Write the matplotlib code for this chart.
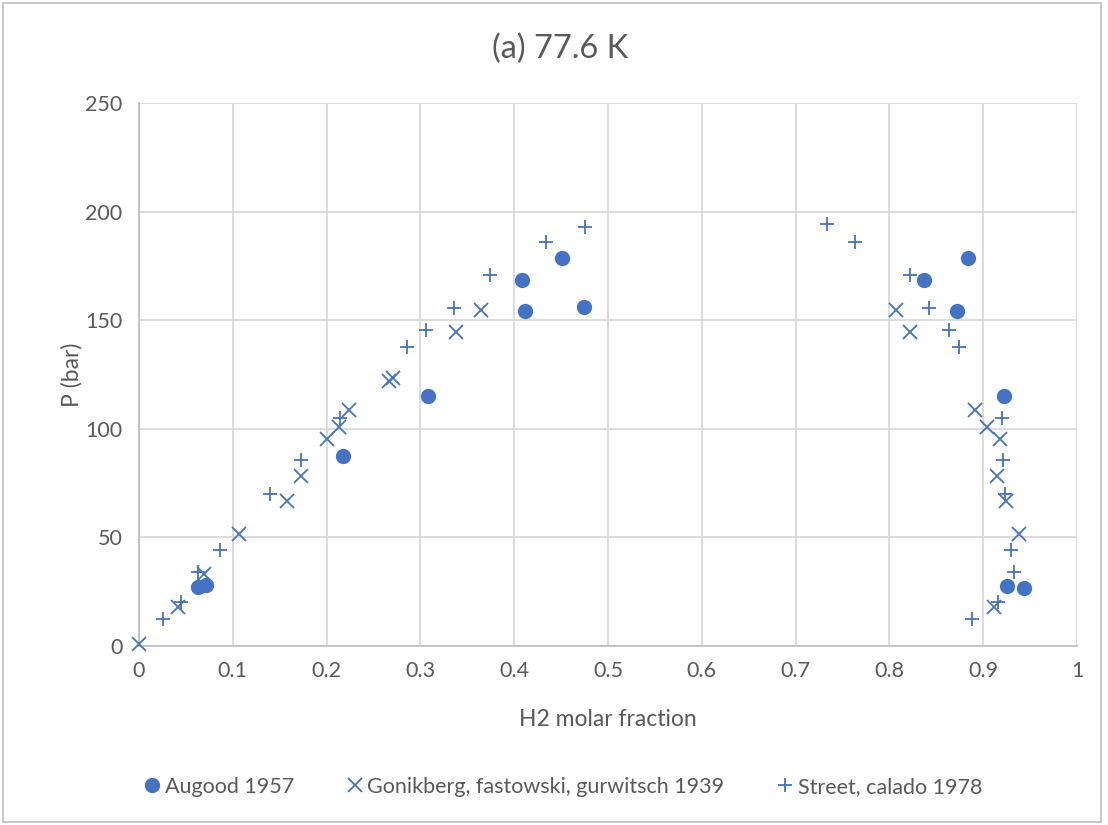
import matplotlib
matplotlib.use("Agg")
import matplotlib.pyplot as plt
from matplotlib.patches import Rectangle

plt.rcParams['font.family'] = ['Lato', 'DejaVu Sans']

title = "(a) 77.6 K"
x_label = "H2 molar fraction"
y_label = "P (bar)"

augood_label = "Augood 1957"
augood_x = [0.063, 0.071, 0.217, 0.308, 0.408, 0.412, 0.451, 0.474,
            0.837, 0.872, 0.884, 0.922, 0.925, 0.944]
augood_p = [27.0, 28.1, 87.5, 115.2, 168.4, 154.2, 178.6, 156.1,
            168.4, 154.2, 178.6, 115.1, 27.8, 26.8]

gonik_label = "Gonikberg, fastowski, gurwitsch 1939"
gonik_x = [0.0, 0.042, 0.069, 0.107, 0.158, 0.173, 0.200, 0.213, 0.224,
           0.266, 0.271, 0.338, 0.365,
           0.807, 0.822, 0.891, 0.904, 0.918, 0.915, 0.924, 0.938, 0.912]
gonik_p = [1.0, 18.1, 33.1, 51.6, 66.6, 78.4, 95.5, 100.6, 108.6,
           121.8, 123.4, 144.6, 154.8,
           154.8, 144.6, 108.6, 100.6, 95.5, 78.4, 66.6, 51.6, 18.1]

street_label = "Street, calado 1978"
street_x = [0.026, 0.045, 0.063, 0.086, 0.140, 0.173, 0.214, 0.286,
            0.306, 0.336, 0.374, 0.434, 0.475,
            0.733, 0.763, 0.822, 0.842, 0.864, 0.874, 0.920, 0.921,
            0.923, 0.930, 0.933, 0.916, 0.888]
street_p = [12.4, 20.4, 34.0, 44.3, 70.0, 85.8, 104.8, 137.8,
            145.3, 155.6, 170.8, 186.1, 193.1,
            194.3, 186.1, 170.8, 155.6, 145.3, 137.8, 104.8, 85.8,
            70.0, 44.3, 34.0, 20.4, 12.4]

x_ticks = [0, 0.1, 0.2, 0.3, 0.4, 0.5, 0.6, 0.7, 0.8, 0.9, 1]
x_tick_labels = ["0", "0.1", "0.2", "0.3", "0.4", "0.5", "0.6", "0.7", "0.8", "0.9", "1"]
y_ticks = [0, 50, 100, 150, 200, 250]

blue = "#4472C4"
text_color = "#595959"
grid_color = "#D9D9D9"

fig = plt.figure(figsize=(11.08, 8.25), dpi=100)
ax = fig.add_axes([139 / 1108, 1 - 646 / 825, (1077 - 139) / 1108, (646 - 103) / 825])

ax.plot(augood_x, augood_p, linestyle="none", marker="o", markersize=11,
        color=blue, markeredgewidth=0, label=augood_label, zorder=3, clip_on=False)
ax.plot(gonik_x, gonik_p, linestyle="none", marker="x", markersize=10.5,
        color=blue, markeredgewidth=1.3, label=gonik_label, zorder=3, clip_on=False)
ax.plot(street_x, street_p, linestyle="none", marker="+", markersize=10.5,
        color=blue, markeredgewidth=1.3, label=street_label, zorder=3, clip_on=False)

ax.set_xlim(0, 1)
ax.set_ylim(0, 250)
ax.set_xticks(x_ticks)
ax.set_xticklabels(x_tick_labels)
ax.set_yticks(y_ticks)
ax.grid(True, color=grid_color, linewidth=1.3, zorder=0)
ax.set_axisbelow(True)
for s in ["top", "right"]:
    ax.spines[s].set_visible(False)
for s in ["left", "bottom"]:
    ax.spines[s].set_color("#BFBFBF")
    ax.spines[s].set_linewidth(1.3)
ax.tick_params(length=0, labelsize=15.5, labelcolor=text_color, pad=11)
ax.tick_params(axis="y", pad=12)

ax.set_xlabel(x_label, fontsize=16.5, color=text_color, labelpad=20)
ax.set_ylabel(y_label, fontsize=16.5, color=text_color, labelpad=2)
fig.text(0.5055, 1 - 49 / 825, title, ha="center", va="center",
         fontsize=23.5, color=text_color)

fig.legend(loc="center", bbox_to_anchor=(0.507, 1 - 787 / 825), ncol=3,
           frameon=False, fontsize=15.5, labelcolor=text_color,
           handletextpad=0.1, columnspacing=2.3, handlelength=1.0)

fig.patches.append(Rectangle((0.003, 0.004), 0.991, 0.992, transform=fig.transFigure,
                             fill=False, edgecolor="#BFBFBF", linewidth=1.2))

fig.savefig("out.png", dpi=100)
